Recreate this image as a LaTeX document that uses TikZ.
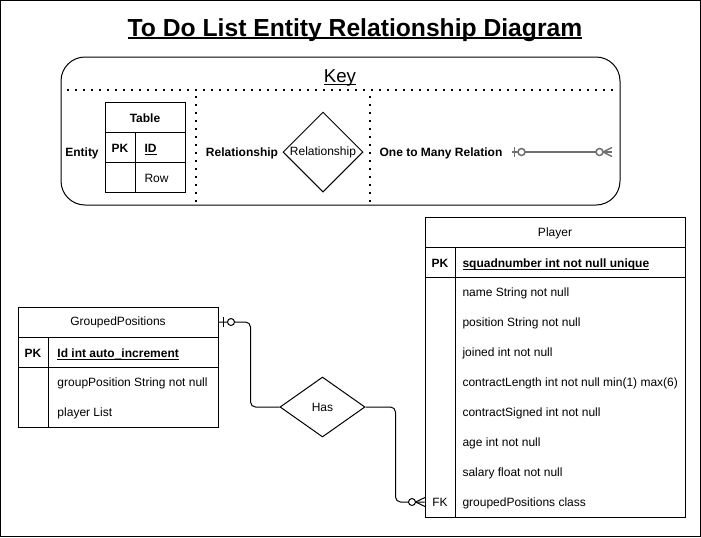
\documentclass[tikz,border=0pt]{standalone}
\usepackage{fontspec}
\setmainfont{Liberation Sans}
\usetikzlibrary{shapes.geometric}

% underline: depth, thickness, text
\newcommand{\undl}[3]{\setbox0\hbox{#3}\rlap{\rule[-#1]{\wd0}{#2}}\box0}

\tikzset{every picture/.style={line width=0.75pt}}
\tikzset{
  txt/.style={font=\fontsize{9}{11}\selectfont, inner sep=0pt},
  txtb/.style={font=\fontsize{9}{11}\selectfont\bfseries, inner sep=0pt},
  attr/.style={txt, anchor=west},
  sepline/.style={line width=1.5pt, dash pattern=on 1.5pt off 4.5pt},
  relshape/.style={draw, fill=white, diamond, inner sep=0pt, aspect=1},
  keyline/.style={color={rgb, 255:red, 112; green, 112; blue, 112}, line width=1.1pt}
}

\begin{document}
\begin{tikzpicture}[x=0.75pt,y=0.75pt,yscale=-1,xscale=1]
    \useasboundingbox (0,0) rectangle (701,537);
    %Shape: Frame
    \draw   (0.5,0.5) rectangle (700.5,536.5);

    % Text Node
    \node [font=\fontsize{18.5}{22}\selectfont\bfseries, anchor=base, inner sep=0pt] (title) at (355,36) {\undl{2.6pt}{1.5pt}{To Do List Entity Relationship Diagram}};

    %Shape: Key box
    \draw [rounded corners=18pt] (61,57) rectangle (620,205);
    \node [font=\fontsize{14}{16}\selectfont, anchor=base, inner sep=0pt] (keyTitle) at (340,82) {\undl{2pt}{0.75pt}{Key}};
    \draw [sepline] (67,90) -- (617,90);
    \draw [sepline] (196,96) -- (196,203);
    \draw [sepline] (370,96) -- (370,203);

    %Shape: Key table
    \draw   (105,102) rectangle (185,192);
    \draw   (105,132) -- (185,132);
    \draw   (105,162) -- (185,162);
    \draw   (135,132) -- (135,192);
    \node [txtb] (keyEntity) at (82,153) {Entity};
    \node [txtb] (keyHead) at (145,118) {Table};
    \node [txtb] (keyPK) at (120,148) {PK};
    \node [txtb, anchor=base west] (keyID) at (144,152.5) {\undl{1.6pt}{0.6pt}{ID}};
    \node [attr] (keyRow) at (144,178) {Row};

    %Shape: Key relationship
    \node [txtb] (keyRelLbl) at (242,153) {Relationship};
    \node [relshape, minimum width=60pt, minimum height=60pt, font=\fontsize{9}{11}\selectfont] (keyRel) at (323,152) {Relationship};

    %Shape: Key one to many
    \node [txtb] (keyManyLbl) at (441,153) {One to Many Relation};
    \coordinate (keyA) at (512,152);
    \coordinate (keyB) at (612,152);
    \draw [keyline]   (keyA) -- (keyB);
    \draw [keyline, shift={(512,152)}]   (2.5,-5) -- (2.5,5);
    \draw [keyline, fill=white, shift={(512,152)}]   (9.5,0) circle [radius=3.5];
    \draw [keyline, shift={(612,152)}]   (-9,0) -- (0,-4.5) (-9,0) -- (0,4.5);
    \draw [keyline, fill=white, shift={(612,152)}]   (-12.5,0) circle [radius=3.5];

    %Shape: Table GroupedPositions
    \draw   (18,307) rectangle (218,427);
    \draw   (18,337) -- (218,337);
    \draw   (18,367) -- (218,367);
    \draw   (48,337) -- (48,427);
    \node [txt, minimum width=150pt, minimum height=22.5pt] (gpHead) at (118,322) {GroupedPositions};
    \node [txtb] (gpPK) at (33,353) {PK};
    \node [txtb, anchor=base west] (gpId) at (57,357.5) {\undl{1.6pt}{0.6pt}{Id int auto\_increment}};
    \node [attr] (gpGroup) at (57,383) {groupPosition String not null};
    \node [attr] (gpPlayer) at (57,413) {player List};

    %Shape: Table Player
    \draw   (425,217) rectangle (685,517);
    \draw   (425,247) -- (685,247);
    \draw   (425,277) -- (685,277);
    \draw   (455,247) -- (455,517);
    \node [txt] (plHead) at (555,233) {Player};
    \node [txtb] (plPK) at (440,263) {PK};
    \node [txtb, anchor=base west] (plSquad) at (462,267.5) {\undl{1.6pt}{0.6pt}{squadnumber int not null unique}};
    \foreach \t [count=\i] in {name String not null, position String not null, joined int not null, contractLength int not null min(1) max(6), contractSigned int not null, age int not null, salary float not null, groupedPositions class}
        \node [attr] (pl\i) at (462,263.5+30*\i) {\t};
    \node [txt, minimum width=22.5pt, minimum height=22.5pt] (plFK) at (440,502) {FK};

    %Shape: Relationship Has
    \node [relshape, minimum width=63.75pt, minimum height=45pt, font=\fontsize{9}{11}\selectfont] (has) at (322.5,407) {Has};

    %Straight Lines
    \draw [rounded corners=3.75pt]   (gpHead.east) -- ++(32,0) |- (has.west);
    \draw [rounded corners=3.75pt]   (has.east) -- ++(30,0) |- (plFK.west);
    % one or zero end
    \draw [shift={(218,322)}]   (5,-5) -- (5,5);
    \draw [fill=white, shift={(218,322)}]   (13,0) circle [radius=3.5];
    % zero or many end
    \draw [shift={(425,502)}]   (-9.5,0) -- (0,-4.5) (-9.5,0) -- (0,4.5);
    \draw [fill=white, shift={(425,502)}]   (-13,0) circle [radius=3.5];
\end{tikzpicture}
\end{document}
